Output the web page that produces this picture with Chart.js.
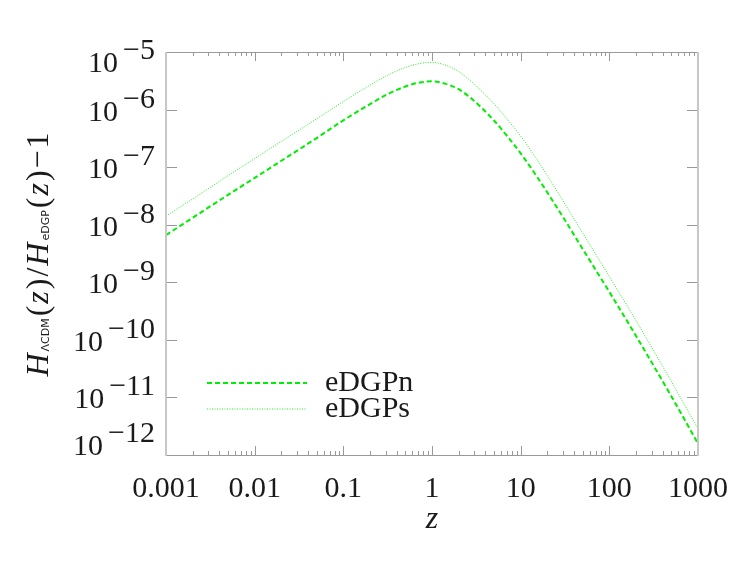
<!DOCTYPE html>
<html>
<head>
<meta charset="utf-8">
<script src="https://cdn.jsdelivr.net/npm/chart.js@4.4.1/dist/chart.umd.min.js"></script>
<style>
html, body { margin: 0; padding: 0; background: #fff; }
#wrap { width: 747px; height: 561px; }
</style>
</head>
<body>
<div id="wrap"><canvas id="c" width="747" height="561"></canvas></div>
<script>
// redshift samples and curves
const z_vals = [0.001, 0.002, 0.005, 0.01, 0.02, 0.05, 0.1, 0.2, 0.3, 0.5, 0.7, 1, 1.4, 2, 3, 5, 7, 10, 15, 20, 30, 50, 100, 200, 500, 1000];
const edgpn = [6.6e-9, 1.32e-8, 3.3e-8, 6.5e-8, 1.29e-7, 3.2e-7, 6.5e-7, 1.245e-6, 1.78e-6, 2.51e-6, 2.92e-6, 3.09e-6, 2.82e-6, 2.26e-6, 1.41e-6, 6.46e-7, 3.5e-7, 1.74e-7, 7.1e-8, 3.63e-8, 1.36e-8, 3.8e-9, 6.8e-10, 1.17e-10, 1.05e-11, 1.58e-12];
const edgps = [1.41e-8, 2.8e-8, 7.1e-8, 1.41e-7, 2.8e-7, 6.9e-7, 1.38e-6, 2.66e-6, 3.8e-6, 5.37e-6, 6.24e-6, 6.6e-6, 5.96e-6, 4.57e-6, 2.75e-6, 1.26e-6, 6.9e-7, 3.47e-7, 1.41e-7, 7.1e-8, 2.6e-8, 7.2e-9, 1.26e-9, 2.16e-10, 1.9e-11, 2.85e-12];
const series_names = ["eDGPn", "eDGPs"];
const x_ticks = [0.001, 0.01, 0.1, 1, 10, 100, 1000];
const x_tick_labels = ["0.001", "0.01", "0.1", "1", "10", "100", "1000"];
const y_exps = [-5, -6, -7, -8, -9, -10, -11, -12];

const serif = '"Liberation Serif", "Times New Roman", serif';
const sans = '"DejaVu Sans", sans-serif';

function pts(ys) {
	return z_vals.map((z, i) => ({x: z, y: ys[i]}));
}

// frame, inward ticks, tick labels, titles and legend
const decorations = {
	id: "decorations",
	afterDraw(chart) {
		const ctx = chart.ctx;
		const a = chart.chartArea;
		const xs = chart.scales.x;
		const ys = chart.scales.y;
		ctx.save();

		// ticks
		ctx.strokeStyle = "#999";
		ctx.lineWidth = 1;
		ctx.beginPath();
		for (let d = -3; d <= 2; d++) {
			for (let m = 1; m <= 9; m++) {
				const v = m * Math.pow(10, d);
				const px = Math.round(xs.getPixelForValue(v)) + 0.5;
				const len = m === 1 ? 9 : 4;
				ctx.moveTo(px, a.bottom); ctx.lineTo(px, a.bottom - len);
				ctx.moveTo(px, a.top); ctx.lineTo(px, a.top + len);
			}
		}
		y_exps.forEach(e => {
			const py = Math.round(ys.getPixelForValue(Math.pow(10, e))) + 0.5;
			ctx.moveTo(a.left, py); ctx.lineTo(a.left + 11, py);
			ctx.moveTo(a.right, py); ctx.lineTo(a.right - 11, py);
		});
		ctx.stroke();

		// border
		ctx.beginPath();
		ctx.moveTo(a.left, Math.round(a.top) + 0.5); ctx.lineTo(a.right, Math.round(a.top) + 0.5);
		ctx.moveTo(a.left, Math.round(a.bottom) + 0.5); ctx.lineTo(a.right, Math.round(a.bottom) + 0.5);
		ctx.stroke();
		ctx.strokeStyle = "#c8c8c8";
		ctx.lineWidth = 2;
		ctx.beginPath();
		ctx.moveTo(a.left, a.top); ctx.lineTo(a.left, a.bottom + 1);
		ctx.moveTo(a.right, a.top); ctx.lineTo(a.right, a.bottom + 1);
		ctx.stroke();

		// y tick labels 10^-n
		ctx.fillStyle = "#1a1a1a";
		ctx.font = "30px " + serif;
		ctx.textAlign = "right";
		ctx.textBaseline = "alphabetic";
		y_exps.forEach(e => {
			const py = ys.getPixelForValue(Math.pow(10, e));
			const base = Math.min(Math.max(py + 11, a.top + 20), a.bottom);
			const sup = "\u2212" + (-e);
			const right = a.left - 11;
			ctx.fillText(sup, right, base - 13);
			const w = ctx.measureText(sup).width;
			ctx.fillText("10", right - w - 5, base);
		});

		// x tick labels
		ctx.textAlign = "center";
		x_ticks.forEach((v, i) => {
			ctx.fillText(x_tick_labels[i], xs.getPixelForValue(v), 497);
		});

		// x title
		ctx.font = "italic 32px " + serif;
		ctx.fillText("z", (a.left + a.right) / 2, 528);

		// y title, rotated
		const parts = [
			["H", "italic 32px " + serif, 0],
			["\u039BCDM", "11px " + sans, 1],
			["(", "32px " + serif, 0],
			["z", "italic 32px " + serif, 0],
			[")", "32px " + serif, 0],
			["/", "32px " + serif, 0],
			["H", "italic 32px " + serif, 0],
			["eDGP", "11px " + sans, 1],
			["(", "32px " + serif, 0],
			["z", "italic 32px " + serif, 0],
			[")", "32px " + serif, 0],
			["\u2212", "32px " + serif, 0],
			["1", "32px " + serif, 0]
		];
		let total = 0;
		const widths = parts.map(p => {
			ctx.font = p[1];
			const w = ctx.measureText(p[0]).width + 2;
			total += w;
			return w;
		});
		ctx.translate(48, (a.top + a.bottom) / 2);
		ctx.rotate(-Math.PI / 2);
		ctx.textAlign = "left";
		let x = -total / 2;
		parts.forEach((p, i) => {
			ctx.font = p[1];
			ctx.fillText(p[0], x, p[2]);
			x += widths[i];
		});
		ctx.setTransform(1, 0, 0, 1, 0, 0);

		// legend
		const legend_y = [383, 409];
		chart.data.datasets.forEach((ds, i) => {
			ctx.strokeStyle = ds.borderColor;
			ctx.lineWidth = ds.borderWidth;
			ctx.setLineDash(ds.borderDash);
			ctx.beginPath();
			ctx.moveTo(207, legend_y[i]);
			ctx.lineTo(307, legend_y[i]);
			ctx.stroke();
			ctx.setLineDash([]);
			ctx.font = "30px " + serif;
			ctx.fillStyle = "#1a1a1a";
			ctx.textAlign = "left";
			ctx.fillText(ds.label, 325, legend_y[i] + 8);
		});
		ctx.restore();
	}
};

new Chart(document.getElementById("c"), {
	type: "line",
	data: {
		datasets: [{
			label: series_names[0],
			data: pts(edgpn),
			borderColor: "#00ee00",
			borderWidth: 2,
			borderDash: [5, 3],
			pointRadius: 0,
			cubicInterpolationMode: "monotone",
			fill: false
		}, {
			label: series_names[1],
			data: pts(edgps),
			borderColor: "#22ee22",
			borderWidth: 1,
			borderDash: [1, 1.5],
			pointRadius: 0,
			cubicInterpolationMode: "monotone",
			fill: false
		}]
	},
	options: {
		responsive: false,
		devicePixelRatio: 1,
		animation: false,
		layout: {padding: {left: 166, right: 49, top: 52, bottom: 106}},
		scales: {
			x: {type: "logarithmic", min: 0.001, max: 1000, display: false},
			y: {type: "logarithmic", min: 1e-12, max: 1e-5, display: false}
		},
		plugins: {
			legend: {display: false},
			tooltip: {enabled: false}
		}
	},
	plugins: [decorations]
});
</script>
</body>
</html>
